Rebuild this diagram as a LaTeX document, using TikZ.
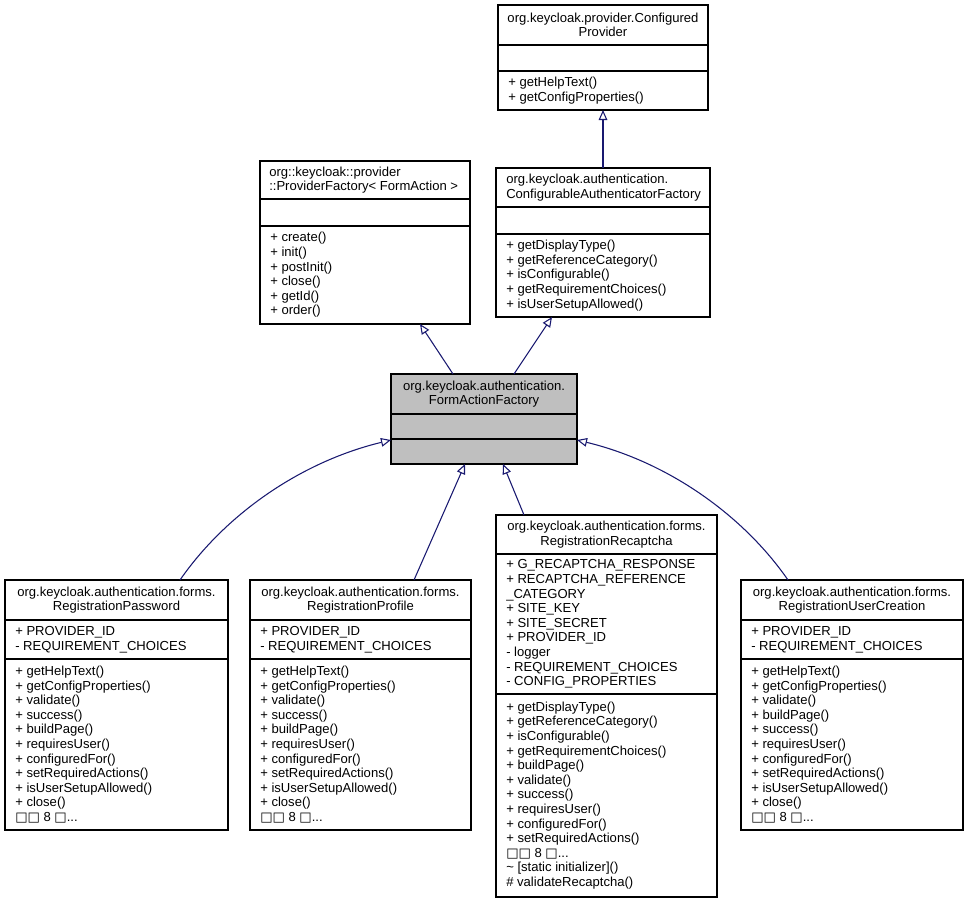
\documentclass[tikz,border=0pt]{standalone}
\usepackage{fontspec}
\setmainfont{Liberation Sans}
\newfontfamily\boxglyph{DejaVu Sans}
\usetikzlibrary{arrows.meta,calc}
\definecolor{edgeblue}{HTML}{191970}
\definecolor{fagray}{HTML}{BFBFBF}
\definecolor{boxborder}{HTML}{000000}
\newcommand\moremembers{{\boxglyph □□} 8 {\boxglyph □}...}
\newcommand\umlclass[8]{%
  \pgfmathsetmacro\bw{(#4-#2)*0.75}%
  \pgfmathsetmacro\bh{(#5-#3)*0.75}%
  \node[classbox,#8,minimum width=\bw pt,minimum height=\bh pt] (#1) at ({(#2+#4)/2},{(#3+#5)/2}) {};
  \draw[divider] (#2,#6) -- (#4,#6);
  \draw[divider] (#2,#7) -- (#4,#7);
}
\begin{document}
\begin{tikzpicture}[x=0.75pt,y=-0.75pt,
  classbox/.style={draw=boxborder,line width=0.9pt,fill=white,inner sep=0pt,outer sep=0pt},
  divider/.style={draw=boxborder,line width=0.9pt},
  txt/.style={font=\fontsize{9.8pt}{10.95pt}\selectfont,inner sep=0pt,align=left,anchor=west},
  ctxt/.style={font=\fontsize{9.8pt}{10.95pt}\selectfont,inner sep=0pt,align=center},
  inh/.style={draw=edgeblue,line width=0.8pt,-{Triangle[open,length=7.5pt,width=6.5pt]}}]
\useasboundingbox (0,0) rectangle (968,904);

% ConfiguredProvider
\umlclass{cp}{498}{5}{708}{110}{45}{71}{}
\node[ctxt] (cp-t) at (603,25) {org.keycloak.provider.Configured\\Provider};
\node[txt] (cp-m) at (508,90.5) {+ getHelpText()\\+ getConfigProperties()};

% ProviderFactory
\umlclass{pf}{260}{161}{470}{324}{199}{226}{}
\node[txt] (pf-t) at (269,180) {org::keycloak::provider\\::ProviderFactory< FormAction >};
\node[txt] (pf-m) at (270,275) {+ create()\\+ init()\\+ postInit()\\+ close()\\+ getId()\\+ order()};

% ConfigurableAuthenticatorFactory
\umlclass{caf}{496}{168}{710}{317}{207}{234}{}
\node[txt] (caf-t) at (506,187.5) {org.keycloak.authentication.\\ConfigurableAuthenticatorFactory};
\node[txt] (caf-m) at (506,275.5) {+ getDisplayType()\\+ getReferenceCategory()\\+ isConfigurable()\\+ getRequirementChoices()\\+ isUserSetupAllowed()};

% FormActionFactory
\umlclass{fa}{391}{374}{577}{464}{414}{439}{fill=fagray}
\node[ctxt] (fa-t) at (484,394) {org.keycloak.authentication.\\FormActionFactory};

% RegistrationPassword
\umlclass{rp}{5}{580}{228}{830}{620}{659}{}
\node[ctxt] (rp-t) at (116.5,600) {org.keycloak.authentication.forms.\\RegistrationPassword};
\node[txt] (rp-a) at (15,639.5) {+ PROVIDER\_ID\\- REQUIREMENT\_CHOICES};
\node[txt] (rp-m) at (15,744.5) {+ getHelpText()\\+ getConfigProperties()\\+ validate()\\+ success()\\+ buildPage()\\+ requiresUser()\\+ configuredFor()\\+ setRequiredActions()\\+ isUserSetupAllowed()\\+ close()\\\moremembers};

% RegistrationProfile
\umlclass{rpr}{250}{580}{471}{830}{620}{659}{}
\node[ctxt] (rpr-t) at (360.5,600) {org.keycloak.authentication.forms.\\RegistrationProfile};
\node[txt] (rpr-a) at (260,639.5) {+ PROVIDER\_ID\\- REQUIREMENT\_CHOICES};
\node[txt] (rpr-m) at (260,744.5) {+ getHelpText()\\+ getConfigProperties()\\+ validate()\\+ success()\\+ buildPage()\\+ requiresUser()\\+ configuredFor()\\+ setRequiredActions()\\+ isUserSetupAllowed()\\+ close()\\\moremembers};

% RegistrationRecaptcha
\umlclass{rr}{496}{515}{717}{897}{554}{694}{}
\node[ctxt] (rr-t) at (606.5,534.5) {org.keycloak.authentication.forms.\\RegistrationRecaptcha};
\node[txt] (rr-a) at (506,624) {+ G\_RECAPTCHA\_RESPONSE\\+ RECAPTCHA\_REFERENCE\\\_CATEGORY\\+ SITE\_KEY\\+ SITE\_SECRET\\+ PROVIDER\_ID\\- logger\\- REQUIREMENT\_CHOICES\\- CONFIG\_PROPERTIES};
\node[txt] (rr-m) at (506,795.5) {+ getDisplayType()\\+ getReferenceCategory()\\+ isConfigurable()\\+ getRequirementChoices()\\+ buildPage()\\+ validate()\\+ success()\\+ requiresUser()\\+ configuredFor()\\+ setRequiredActions()\\\moremembers\\\textasciitilde{} [static initializer]()\\\# validateRecaptcha()};

% RegistrationUserCreation
\umlclass{ruc}{741}{580}{963}{830}{620}{659}{}
\node[ctxt] (ruc-t) at (852,600) {org.keycloak.authentication.forms.\\RegistrationUserCreation};
\node[txt] (ruc-a) at (751,639.5) {+ PROVIDER\_ID\\- REQUIREMENT\_CHOICES};
\node[txt] (ruc-m) at (751,744.5) {+ getHelpText()\\+ getConfigProperties()\\+ validate()\\+ buildPage()\\+ success()\\+ requiresUser()\\+ configuredFor()\\+ setRequiredActions()\\+ isUserSetupAllowed()\\+ close()\\\moremembers};

% Inheritance connectors
\draw[inh] ($(caf.north west)+(107,0)$) -- ($(cp.south west)+(105,0)$);
\draw[inh] ($(fa.north west)+(62,0)$) -- ($(pf.south west)+(160,0)$);
\draw[inh] ($(fa.north west)+(123,0)$) -- ($(caf.south west)+(56,0)$);
\draw[inh] ($(rp.north west)+(175,0)$) .. controls (225,515) and (300,462) .. ($(fa.south west)+(0,-24)$);
\draw[inh] ($(rpr.north west)+(164,0)$) -- ($(fa.south west)+(74,0)$);
\draw[inh] ($(rr.north west)+(28,0)$) -- ($(fa.south west)+(112,0)$);
\draw[inh] ($(ruc.north west)+(47,0)$) .. controls (743,515) and (668,462) .. ($(fa.south east)+(0,-24)$);
\end{tikzpicture}
\end{document}
